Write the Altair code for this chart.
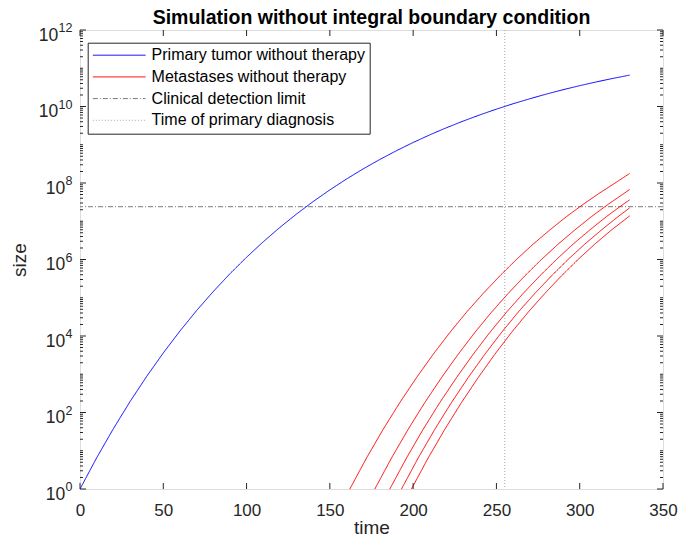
import altair as alt
import pandas as pd

# ---------------- data ----------------
primary_time = [0, 10, 20, 30, 40, 50, 60, 70, 80, 90, 100, 110, 120, 130, 140, 150, 160,
                170, 180, 190, 200, 210, 220, 230, 240, 250, 260, 270, 280, 290, 300, 310, 320, 330]
primary_log10 = [0, 0.815, 1.574, 2.282, 2.942, 3.557, 4.130, 4.665, 5.162, 5.627, 6.059, 6.463,
                 6.839, 7.189, 7.516, 7.820, 8.104, 8.369, 8.615, 8.845, 9.059, 9.259, 9.445, 9.618,
                 9.780, 9.931, 10.072, 10.202, 10.325, 10.439, 10.544, 10.643, 10.735, 10.821]

met1_time = [162, 172, 182, 192, 202, 212, 222, 232, 242, 252, 262, 272, 282, 292, 302, 312, 322, 330]
met1_log10 = [0, 0.81, 1.56, 2.26, 2.91, 3.52, 4.09, 4.62, 5.11, 5.57, 6.00, 6.40, 6.77, 7.12, 7.44, 7.74, 8.02, 8.25]
met2_time = [177, 187, 197, 207, 217, 227, 237, 247, 257, 267, 277, 287, 297, 307, 317, 327, 330]
met2_log10 = [0, 0.81, 1.56, 2.26, 2.91, 3.52, 4.09, 4.62, 5.11, 5.57, 6.00, 6.40, 6.77, 7.12, 7.44, 7.74, 7.83]
met3_time = [186, 196, 206, 216, 226, 236, 246, 256, 266, 276, 286, 296, 306, 316, 326, 330]
met3_log10 = [0, 0.81, 1.56, 2.26, 2.91, 3.52, 4.09, 4.62, 5.11, 5.57, 6.00, 6.40, 6.77, 7.12, 7.44, 7.56]
met4_time = [193, 203, 213, 223, 233, 243, 253, 263, 273, 283, 293, 303, 313, 323, 330]
met4_log10 = [0, 0.81, 1.56, 2.26, 2.91, 3.52, 4.09, 4.62, 5.11, 5.57, 6.00, 6.40, 6.77, 7.12, 7.35]
met5_time = [199, 209, 219, 229, 239, 249, 259, 269, 279, 289, 299, 309, 319, 330]
met5_log10 = [0, 0.81, 1.56, 2.26, 2.91, 3.52, 4.09, 4.62, 5.11, 5.57, 6.00, 6.40, 6.77, 7.14]

detection_limit = 2.4e7
diagnosis_time = 255

series_labels = ["Primary tumor without therapy", "Metastases without therapy",
                 "Clinical detection limit", "Time of primary diagnosis"]
series_colors = ["#0000ff", "#ff0000", "#7a7a7a", "#a8a8a8"]
series_dashes = [[1, 0], [1, 0], [5, 2, 1, 2], [1, 2]]

x_ticks = [0, 50, 100, 150, 200, 250, 300, 350]
y_label_exps_1 = [0, 2, 4, 6, 8]
y_label_exps_2 = [10, 12]

TITLE = "Simulation without integral boundary condition"
FONT = "Liberation Sans"
INK = "#262626"
W, H = 583, 459

# ---------------- tables ----------------
rows = []
for t, v in zip(primary_time, primary_log10):
    rows.append({"time": t, "size": 10 ** v, "series": series_labels[0], "curve": "p"})
for i, (ts, vs) in enumerate([(met1_time, met1_log10), (met2_time, met2_log10), (met3_time, met3_log10),
                              (met4_time, met4_log10), (met5_time, met5_log10)]):
    for t, v in zip(ts, vs):
        rows.append({"time": t, "size": 10 ** v, "series": series_labels[1], "curve": f"m{i}"})
df_lines = pd.DataFrame(rows)
df_h = pd.DataFrame({"size": [detection_limit], "series": [series_labels[2]]})
df_v = pd.DataFrame({"time": [diagnosis_time], "series": [series_labels[3]]})

df_xt = pd.DataFrame({"time": x_ticks})
major = [10.0 ** e for e in range(0, 13, 2)]
minor = []
for k in range(0, 12):
    for m in range(2, 10):
        minor.append(m * 10.0 ** k)
    if k % 2 == 1:
        minor.append(10.0 ** k)
df_ymaj = pd.DataFrame({"size": major})
df_ymin = pd.DataFrame({"size": minor})
df_lab1 = pd.DataFrame({"size": [10.0 ** e for e in y_label_exps_1], "exp": [str(e) for e in y_label_exps_1]})
df_lab2 = pd.DataFrame({"size": [10.0 ** e for e in y_label_exps_2], "exp": [str(e) for e in y_label_exps_2]})
df_title = pd.DataFrame({"title": [TITLE]})

xs = alt.Scale(domain=[0, 350], nice=False, zero=False)
ys = alt.Scale(type="log", domain=[1, 1e12], nice=False)

leg = alt.Legend(orient="none", legendX=7.7, legendY=12.7, title=None, symbolType="stroke",
                 symbolSize=2780, symbolStrokeWidth=1, clipHeight=16, labelFont=FONT, labelFontSize=16,
                 labelColor="black", padding=4.5, rowPadding=5.7, labelOffset=5.4, labelLimit=0,
                 strokeColor=INK, fillColor="white", cornerRadius=0)
color_enc = alt.Color("series:N", scale=alt.Scale(domain=series_labels, range=series_colors), legend=leg)
dash_enc = alt.StrokeDash("series:N", scale=alt.Scale(domain=series_labels, range=series_dashes), legend=leg)

lines = alt.Chart(df_lines).mark_line(strokeWidth=1, clip=True).encode(
    x=alt.X("time:Q", scale=xs, title="time",
            axis=alt.Axis(values=x_ticks, ticks=False, domain=False, grid=False, labelFlush=False,
                          labelOverlap=False, labelFont=FONT, labelFontSize=17, labelColor=INK,
                          labelBaseline="alphabetic", labelPadding=26, titleFont=FONT, titleFontSize=19,
                          titleFontWeight="normal", titleColor=INK, titleBaseline="alphabetic", titleY=44)),
    y=alt.Y("size:Q", scale=ys, title="size",
            axis=alt.Axis(labels=False, ticks=False, domain=False, grid=False, titleFont=FONT,
                          titleFontSize=19, titleFontWeight="normal", titleColor=INK, titleAngle=270,
                          titleBaseline="alphabetic", titleAlign="center", titleX=-55, titleY=H / 2)),
    color=color_enc, strokeDash=dash_enc, detail="curve:N",
)
hrule = alt.Chart(df_h).mark_rule(strokeWidth=1).encode(
    y=alt.Y("size:Q", scale=ys), color=color_enc, strokeDash=dash_enc)
vrule = alt.Chart(df_v).mark_rule(strokeWidth=1).encode(
    x=alt.X("time:Q", scale=xs), color=color_enc, strokeDash=dash_enc)

xt_bot = alt.Chart(df_xt).mark_rule(color=INK, strokeWidth=1).encode(
    x=alt.X("time:Q", scale=xs), y=alt.value(H), y2=alt.value(H - 6))
xt_top = alt.Chart(df_xt).mark_rule(color=INK, strokeWidth=1).encode(
    x=alt.X("time:Q", scale=xs), y=alt.value(0), y2=alt.value(6))
ymaj_l = alt.Chart(df_ymaj).mark_rule(color=INK, strokeWidth=1).encode(
    y=alt.Y("size:Q", scale=ys), x=alt.value(0), x2=alt.value(6))
ymaj_r = alt.Chart(df_ymaj).mark_rule(color=INK, strokeWidth=1).encode(
    y=alt.Y("size:Q", scale=ys), x=alt.value(W), x2=alt.value(W - 6))
ymin_l = alt.Chart(df_ymin).mark_rule(color=INK, strokeWidth=1).encode(
    y=alt.Y("size:Q", scale=ys), x=alt.value(0), x2=alt.value(3))
ymin_r = alt.Chart(df_ymin).mark_rule(color=INK, strokeWidth=1).encode(
    y=alt.Y("size:Q", scale=ys), x=alt.value(W), x2=alt.value(W - 3))


def ylabels(df, base_dx):
    base = alt.Chart(df).mark_text(font=FONT, fontSize=17.5, color=INK, align="right",
                                   baseline="alphabetic", dy=10.8, dx=base_dx).encode(
        y=alt.Y("size:Q", scale=ys), x=alt.value(-7.5), text=alt.value("10"))
    sup = alt.Chart(df).mark_text(font=FONT, fontSize=12.5, color=INK, align="right",
                                  baseline="alphabetic", dy=2.2).encode(
        y=alt.Y("size:Q", scale=ys), x=alt.value(-7.5), text="exp:N")
    return base + sup


title_mark = alt.Chart(df_title).mark_text(
    font=FONT, fontSize=19.5, fontWeight="bold", color="black", align="center", baseline="alphabetic"
).encode(x=alt.value(W / 2), y=alt.value(-6.5), text="title:N")

chart = alt.layer(
    hrule, vrule, lines, xt_bot, xt_top, ymaj_l, ymaj_r, ymin_l, ymin_r,
    ylabels(df_lab1, -7.2), ylabels(df_lab2, -14.2), title_mark,
).properties(
    width=W, height=H,
    autosize=alt.AutoSizeParams(type="none"),
    padding={"left": 80, "top": 30, "right": 16, "bottom": 58},
).configure_view(stroke=INK, strokeWidth=1).configure(background="white")

chart.save("out.html", embed_options={"renderer": "svg", "actions": False})
